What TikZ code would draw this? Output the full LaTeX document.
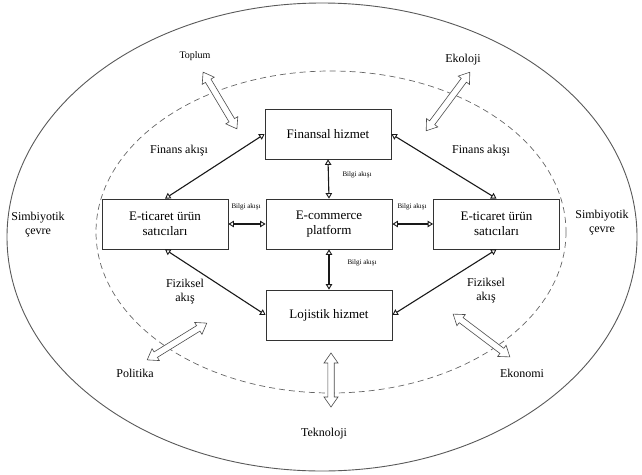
\documentclass[tikz,border=0pt]{standalone}
\usepackage{fontspec}
\setmainfont{Liberation Serif}
\usetikzlibrary{arrows.meta}

\tikzset{
  unit/.style={draw=black!80, line width=0.8pt, fill=white, minimum width=126pt,
    minimum height=50pt, align=center, font=\fontsize{13}{15}\selectfont, inner sep=2pt},
  flow/.style={line width=1.1pt, black!90, {Triangle[open,length=5.5pt,width=6.5pt,line width=0.9pt]}-{Triangle[open,length=5.5pt,width=6.5pt,line width=0.9pt]}},
  % hollow double-headed arrow of total length #1, laid along the x axis
  dblarrow/.pic={
    \draw[black!70, line width=0.6pt, fill=white, line join=miter]
      ({-#1/2},0) -- ({-#1/2+10},7) -- ({-#1/2+10},3.2) -- ({#1/2-10},3.2)
      -- ({#1/2-10},7) -- ({#1/2},0) -- ({#1/2-10},-7) -- ({#1/2-10},-3.2)
      -- ({-#1/2+10},-3.2) -- ({-#1/2+10},-7) -- cycle;
  },
  lbl/.style={font=\fontsize{12}{14}\selectfont, align=center, inner sep=1pt},
  tinylbl/.style={font=\fontsize{7}{8}\selectfont, inner sep=1pt},
}

\begin{document}
\begin{tikzpicture}[x=1pt,y=-1pt]
  \useasboundingbox (0,0) rectangle (642,474);

  % outer environment and inner dashed boundary
  \draw[black!65, line width=0.9pt] (322,237) ellipse [x radius=315, y radius=234];
  \draw[black!60, line width=0.7pt, dash pattern=on 6pt off 4pt] (331,232) ellipse [x radius=235, y radius=161];

  % environment influences (hollow double arrows)
  \coordinate (tpA) at (203,72);  \coordinate (tpB) at (237,129);
  \coordinate (ekA) at (470,72);  \coordinate (ekB) at (426,131);
  \coordinate (poA) at (147,360); \coordinate (poB) at (207,323);
  \coordinate (ecA) at (453,314); \coordinate (ecB) at (510,357);
  \coordinate (teA) at (331,353); \coordinate (teB) at (331,407);
  \path (tpA) -- (tpB) pic[midway, sloped] {dblarrow=66};
  \path (ekA) -- (ekB) pic[midway, sloped] {dblarrow=73};
  \path (poA) -- (poB) pic[midway, sloped] {dblarrow=70};
  \path (ecA) -- (ecB) pic[midway, sloped] {dblarrow=71};
  \path (teA) -- (teB) pic[midway, sloped] {dblarrow=54};

  % environment labels
  \node[lbl, font=\fontsize{10}{12}\selectfont] (toplum) at (195,56) {Toplum};
  \node[lbl] (ekoloji) at (463,60) {Ekoloji};
  \node[lbl] (politika) at (135,373) {Politika};
  \node[lbl] (ekonomi) at (522,373) {Ekonomi};
  \node[lbl] (teknoloji) at (324,434) {Teknoloji};
  \node[lbl] (simL) at (38,225) {Simbiyotik\\çevre};
  \node[lbl] (simR) at (602,223) {Simbiyotik\\çevre};

  % ecosystem actors
  \node[unit] (fin) at (328,134) {Finansal hizmet};
  \node[unit] (sellL) at (165,224) {E-ticaret ürün\\satıcıları};
  \node[unit] (plat) at (329,224) {E-commerce\\platform};
  \node[unit] (sellR) at (496.5,224) {E-ticaret ürün\\satıcıları};
  \node[unit] (log) at (329,315) {Lojistik hizmet};

  % flows between actors
  \draw[flow] (fin.west) -- (sellL.north);
  \draw[flow] (fin.east) -- (sellR.north);
  \draw[flow] (fin.south) -- (plat.north);
  \draw[flow] (plat.south) -- (log.north);
  \draw[flow] (sellL.east) -- (plat.west);
  \draw[flow] (plat.east) -- (sellR.west);
  \draw[flow] (sellL.south) -- (log.west);
  \draw[flow] (sellR.south) -- (log.east);

  % flow labels
  \node[lbl] (finL) at (179,151) {Finans akışı};
  \node[lbl] (finR) at (481,151) {Finans akışı};
  \node[lbl, text width=50pt] (fizL) at (185,292) {Fiziksel\\akış};
  \node[lbl, text width=50pt] (fizR) at (486,291) {Fiziksel\\akış};
  \node[tinylbl] (bTop) at (357,175) {Bilgi akışı};
  \node[tinylbl] (bBot) at (362,263) {Bilgi akışı};
  \node[tinylbl] (bLeft) at (246,207) {Bilgi akışı};
  \node[tinylbl] (bRight) at (412,207) {Bilgi akışı};
\end{tikzpicture}
\end{document}
